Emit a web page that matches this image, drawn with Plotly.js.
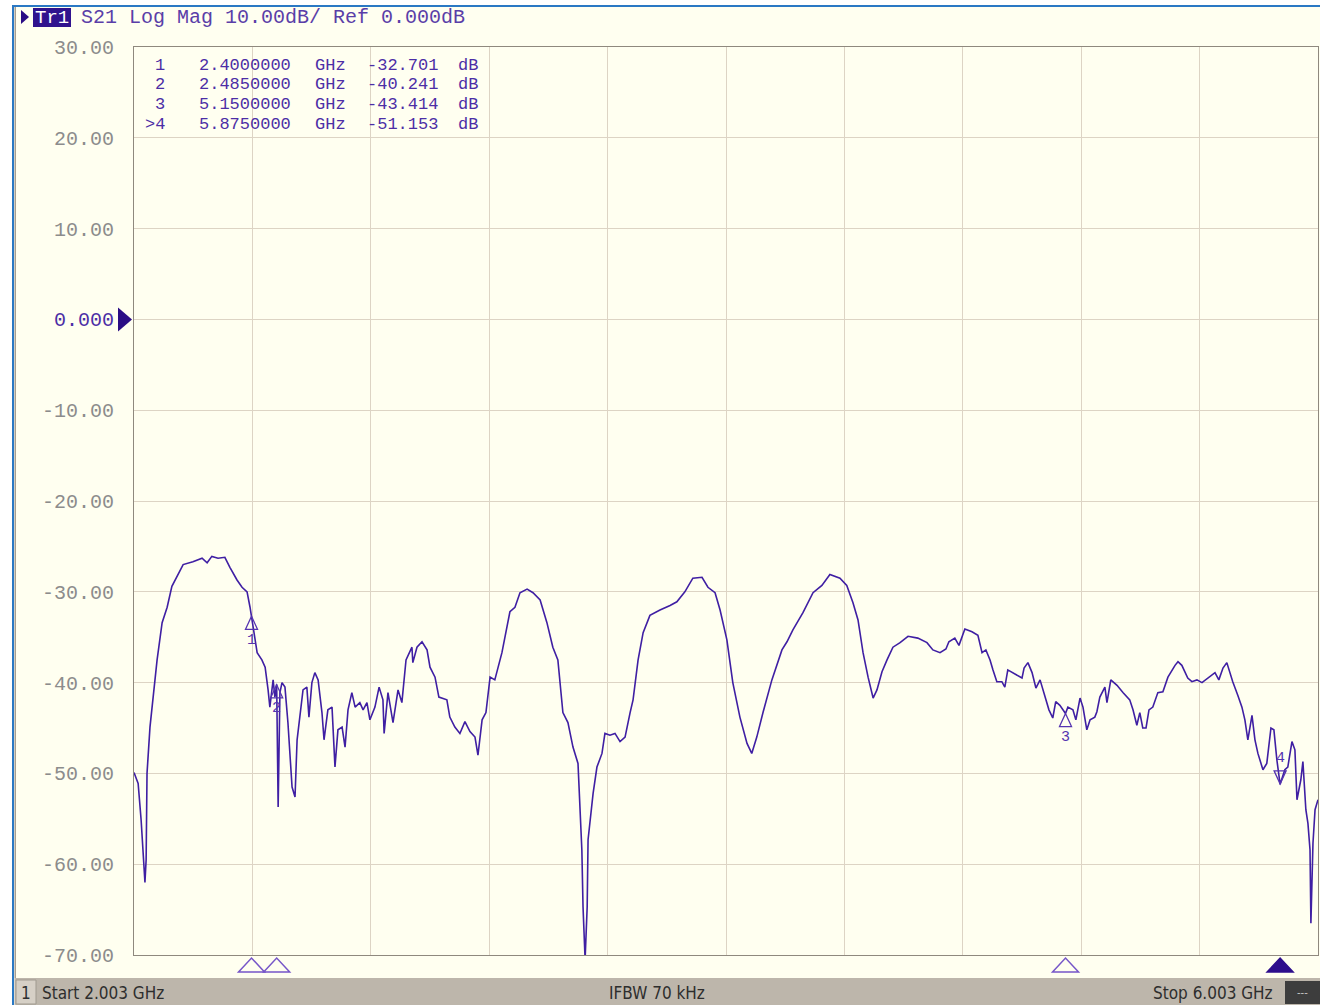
<!DOCTYPE html>
<html><head><meta charset="utf-8">
<script src="https://cdn.plot.ly/plotly-3.0.1.min.js"></script>
<style>html,body{margin:0;padding:0;background:#fff;}#chart{width:1320px;height:1005px;}</style>
</head><body><div id="chart"></div>
<script>
// ---- data (S21 trace, GHz / dB) ----
const freqGHz = [2.003,2.017,2.027,2.037,2.040,2.044,2.047,2.057,2.067,2.081,2.098,2.115,2.131,2.148,2.169,2.202,2.233,2.250,2.266,2.287,2.310,2.327,2.351,2.368,2.385,2.395,2.400,2.412,2.419,2.435,2.446,2.456,2.462,2.473,2.479,2.485,2.490,2.496,2.503,2.513,2.523,2.537,2.547,2.554,2.564,2.574,2.587,2.594,2.604,2.614,2.625,2.638,2.645,2.658,2.672,2.682,2.692,2.706,2.716,2.726,2.739,2.750,2.766,2.777,2.790,2.800,2.817,2.831,2.844,2.848,2.861,2.878,2.895,2.908,2.922,2.942,2.945,2.959,2.976,2.993,3.003,3.020,3.033,3.060,3.070,3.087,3.104,3.121,3.138,3.155,3.165,3.179,3.192,3.206,3.222,3.246,3.273,3.290,3.307,3.331,3.351,3.375,3.398,3.418,3.435,3.452,3.469,3.486,3.503,3.516,3.520,3.527,3.534,3.537,3.554,3.567,3.584,3.594,3.611,3.628,3.645,3.662,3.679,3.689,3.706,3.723,3.746,3.780,3.814,3.837,3.864,3.891,3.922,3.942,3.966,3.983,4.006,4.026,4.050,4.074,4.090,4.107,4.128,4.158,4.192,4.209,4.229,4.263,4.297,4.327,4.354,4.388,4.411,4.432,4.449,4.466,4.483,4.500,4.513,4.530,4.547,4.567,4.591,4.618,4.651,4.682,4.702,4.726,4.746,4.756,4.776,4.790,4.810,4.834,4.854,4.868,4.881,4.895,4.905,4.918,4.935,4.945,4.955,4.972,4.989,5.003,5.010,5.023,5.037,5.050,5.064,5.074,5.087,5.094,5.107,5.117,5.131,5.150,5.158,5.175,5.185,5.199,5.209,5.222,5.233,5.249,5.256,5.266,5.283,5.290,5.303,5.324,5.344,5.367,5.378,5.391,5.401,5.411,5.422,5.432,5.445,5.462,5.479,5.496,5.520,5.530,5.543,5.553,5.563,5.577,5.594,5.611,5.631,5.655,5.668,5.682,5.695,5.705,5.715,5.732,5.746,5.756,5.766,5.780,5.790,5.800,5.817,5.830,5.844,5.854,5.864,5.875,5.891,5.901,5.915,5.925,5.932,5.945,5.952,5.962,5.969,5.976,5.979,5.986,5.993,6.003];
const s21dB = [-49.9,-51.1,-55.1,-60.6,-62.0,-59.5,-50.0,-44.9,-41.6,-37.5,-33.4,-31.7,-29.4,-28.3,-27.0,-26.7,-26.3,-26.8,-26.1,-26.3,-26.2,-27.3,-28.7,-29.5,-30.0,-31.7,-32.7,-35.0,-36.7,-37.5,-38.3,-40.8,-42.7,-39.7,-41.6,-40.2,-53.7,-41.1,-40.0,-40.5,-44.4,-51.5,-52.6,-46.3,-43.3,-40.8,-40.5,-43.8,-40.0,-38.9,-39.7,-43.3,-46.3,-43.0,-42.7,-49.3,-45.2,-44.9,-47.1,-43.0,-41.1,-42.7,-42.2,-43.0,-42.2,-44.1,-42.7,-40.5,-41.9,-45.6,-41.1,-44.4,-40.8,-42.2,-37.5,-36.1,-37.8,-36.1,-35.5,-36.4,-38.3,-39.4,-41.6,-41.9,-43.8,-44.9,-45.6,-44.3,-45.4,-46.0,-48.0,-44.1,-43.3,-39.4,-39.7,-36.7,-32.2,-31.7,-30.1,-29.7,-30.1,-30.9,-33.4,-36.1,-37.5,-43.3,-44.4,-47.1,-48.9,-58.4,-64.7,-70.5,-64.7,-57.3,-52.2,-49.3,-47.8,-45.6,-45.8,-45.6,-46.5,-46.0,-43.3,-41.9,-37.5,-34.5,-32.6,-32.0,-31.5,-31.1,-30.0,-28.5,-28.4,-29.5,-30.1,-32.0,-35.3,-40.0,-43.8,-46.7,-47.8,-46.0,-43.3,-39.7,-36.4,-35.5,-34.2,-32.3,-30.1,-29.3,-28.1,-28.5,-29.3,-31.2,-33.1,-36.7,-39.4,-41.7,-40.8,-38.8,-37.5,-36.1,-35.6,-34.9,-35.1,-35.6,-36.4,-36.7,-36.3,-35.5,-35.1,-35.9,-34.1,-34.4,-34.8,-36.7,-36.4,-37.5,-38.6,-39.9,-39.9,-40.5,-38.6,-38.9,-39.2,-39.5,-38.4,-37.8,-38.9,-40.6,-39.7,-40.8,-42.2,-43.0,-43.9,-42.1,-42.5,-43.4,-42.7,-43.0,-44.1,-41.7,-42.7,-45.2,-44.1,-43.8,-43.2,-41.6,-40.5,-42.2,-39.7,-40.3,-41.1,-41.9,-43.0,-44.7,-43.3,-45.0,-45.0,-43.0,-42.7,-41.1,-41.0,-39.4,-38.1,-37.7,-38.1,-38.9,-39.5,-39.9,-39.7,-40.0,-39.5,-38.9,-39.7,-38.4,-37.8,-38.9,-39.9,-41.4,-42.7,-44.1,-46.3,-43.6,-46.3,-47.8,-49.6,-48.9,-45.0,-45.2,-48.5,-51.2,-49.6,-49.3,-46.5,-47.4,-52.9,-50.7,-48.7,-54.0,-55.5,-58.4,-66.5,-57.7,-54.0,-52.9];

const markerNames = ['1','2','3','4'];
const markerFreqGHz = [2.4, 2.485, 5.15, 5.875];
const markerDB = [-32.701, -40.241, -43.414, -51.153];
const activeMarker = '4';

const startGHz = 2.003, stopGHz = 6.003, xDivs = 10;
const yTickVals = [30,20,10,0,-10,-20,-30,-40,-50,-60,-70];
const yTickText = ['30.00','20.00','10.00','0.000','-10.00','-20.00','-30.00','-40.00','-50.00','-60.00','-70.00'];
const headerTrace = 'Tr1';
const headerText = 'S21 Log Mag 10.00dB/ Ref 0.000dB';
const statusChannel = '1';
const statusStart = 'Start 2.003 GHz';
const statusIFBW = 'IFBW 70 kHz';
const statusStop = 'Stop 6.003 GHz';

// ---- layout helpers (page pixels -> paper) ----
const L = 134, T = 47, R = 1318, B = 955, W = R - L, H = B - T;
const NB = '\u00a0';
const sp = s => s.replace(/ /g, NB);
const pxX = x => (x - L) / W;
const pxY = y => (B - y) / H;
function pixRect(x0, y0, x1, y1, fill, line) {
  return {type:'rect', layer:'above', xref:'paper', yref:'paper', xsizemode:'pixel', ysizemode:'pixel',
    xanchor:0, yanchor:0, x0:x0 - L, x1:x1 - L, y0:B - y0, y1:B - y1,
    fillcolor:fill, line:line || {width:0}};
}
function pixPath(pts, fill, line) {
  const d = pts.map((p, i) => (i ? 'L' : 'M') + (p[0] - L) + ',' + (B - p[1])).join(' ') + ' Z';
  return {type:'path', layer:'above', xref:'paper', yref:'paper', xsizemode:'pixel', ysizemode:'pixel',
    xanchor:0, yanchor:0, path:d, fillcolor:fill, line:line || {width:0}};
}
function label(x, y, text, font, xanchor) {
  return {xref:'paper', yref:'paper', x:pxX(x), y:pxY(y), xanchor:xanchor || 'center', yanchor:'middle',
    text:text, showarrow:false, font:font, borderpad:0};
}

const purple = '#3f1fa3';
const textPurple = '#4c2ea6';
const mono = 'Liberation Mono, DejaVu Sans Mono, monospace';
const narrow = 'Liberation Sans Narrow, DejaVu Sans Condensed, Arial Narrow, sans-serif';
const statusFont = {family:narrow, size:17, color:'#2e2e2e'};
const tableFont = {family:mono, size:17, color:textPurple};

const xGrid = [];
for (let k = 0; k <= xDivs; k++) xGrid.push(startGHz + (stopGHz - startGHz) * k / xDivs);

const tickText = yTickText.map((t, i) => yTickVals[i] === 0 ? '<span style="color:' + textPurple + '">' + t + '</span>' : t);

const shapes = [
  pixRect(0, 0, 12, 1005, '#ffffff'),
  pixRect(0, 0, 1320, 5, '#ffffff'),
  pixRect(12, 5, 14, 1005, '#2a78c4'),
  pixRect(12, 5, 1320, 7, '#2a78c4'),
  pixRect(14.5, 7, 16, 978, '#a49d93'),
  pixRect(14.5, 978, 1320, 1005, '#bdb6ab'),
  pixRect(16, 980, 36, 1004, '#d6d0c6', {color:'#a09a90', width:1}),
  pixRect(1285, 981, 1320, 1004, '#3d3d3d'),
  pixRect(33, 8, 71, 27, '#30138e'),
  pixPath([[21,10],[29,17],[21,24]], '#2a0d85'),
  // reference-level marker at 0 dB (anchored on y axis)
  {type:'path', layer:'above', xref:'paper', yref:'y', xsizemode:'pixel', ysizemode:'pixel',
   xanchor:0, yanchor:0, path:'M-16,12 L-2,0 L-16,-12 Z', fillcolor:'#2a0d85', line:{width:0}}
];

const annotations = [
  label(52, 17.5, headerTrace, {family:mono, size:19, color:'#ffffff'}),
  label(80, 17.5, sp(headerText), {family:mono, size:20, color:'#5a3ea8'}, 'left'),
  label(26, 993, statusChannel, statusFont),
  label(41, 993, statusStart, statusFont, 'left'),
  label(657, 993, statusIFBW, statusFont),
  label(1274, 993, statusStop, statusFont, 'right'),
  label(1302, 992, '---', {family:narrow, size:11, color:'#c8c8c8'})
];

markerNames.forEach((name, i) => {
  const active = name === activeMarker;
  const f = markerFreqGHz[i], v = markerDB[i];
  // readout table: columns placed like the analyzer's marker table
  const yRow = 65 + i * 19.7;
  annotations.push(label(166, yRow, (active ? '>' : '') + name, tableFont, 'right'));
  annotations.push(label(245, yRow, f.toFixed(7), tableFont));
  annotations.push(label(330, yRow, 'GHz', tableFont));
  annotations.push(label(402, yRow, v.toFixed(3), tableFont));
  annotations.push(label(468, yRow, 'dB', tableFont));
  // bottom stimulus triangle
  shapes.push({type:'path', layer:'above', xref:'x', yref:'paper', xsizemode:'pixel', ysizemode:'pixel',
    xanchor:f, yanchor:0, path:'M-13,-17 L13,-17 L0,-3 Z',
    fillcolor: active ? '#2d0e8c' : 'rgba(0,0,0,0)', line:{color: active ? '#2d0e8c' : '#7656c8', width:1.5}});
  // on-trace triangle
  const tri = active ? 'M0,0 L-6,13 L6,13 Z' : 'M0,0 L-6,-13 L6,-13 Z';
  shapes.push({type:'path', layer:'above', xref:'x', yref:'y', xsizemode:'pixel', ysizemode:'pixel',
    xanchor:f, yanchor:v, path:tri, fillcolor:'rgba(0,0,0,0)', line:{color:'#5534b0', width:1.3}});
  annotations.push({xref:'x', yref:'y', x:f, y:v, yshift: active ? 25 : -24, xanchor:'center', yanchor:'middle',
    text:name, showarrow:false, font:{family:mono, size:15, color:'#5534b0'}});
});

const trace = {x:freqGHz, y:s21dB, type:'scatter', mode:'lines', line:{color:purple, width:1.6}, hoverinfo:'skip'};

const layout = {
  width:1320, height:1005,
  margin:{l:L, r:1320 - R, t:T, b:1005 - B, pad:0},
  paper_bgcolor:'#fffff0', plot_bgcolor:'#fffff0',
  showlegend:false,
  xaxis:{range:[startGHz, stopGHz], tickvals:xGrid, showticklabels:false, ticks:'', showgrid:true,
    gridcolor:'#ddd4c4', gridwidth:1, zeroline:false, showline:true, linecolor:'#8f897e', linewidth:1, mirror:true, fixedrange:true},
  yaxis:{range:[-70, 30], tickvals:yTickVals, ticktext:tickText, ticks:'', ticklabelstandoff:15,
    tickfont:{family:mono, size:20, color:'#8c8c8c'}, showgrid:true, gridcolor:'#ddd4c4', gridwidth:1,
    zeroline:false, showline:true, linecolor:'#8f897e', linewidth:1, mirror:true, fixedrange:true},
  shapes:shapes, annotations:annotations
};

Plotly.newPlot('chart', [trace], layout, {staticPlot:true, displayModeBar:false});
</script></body></html>
